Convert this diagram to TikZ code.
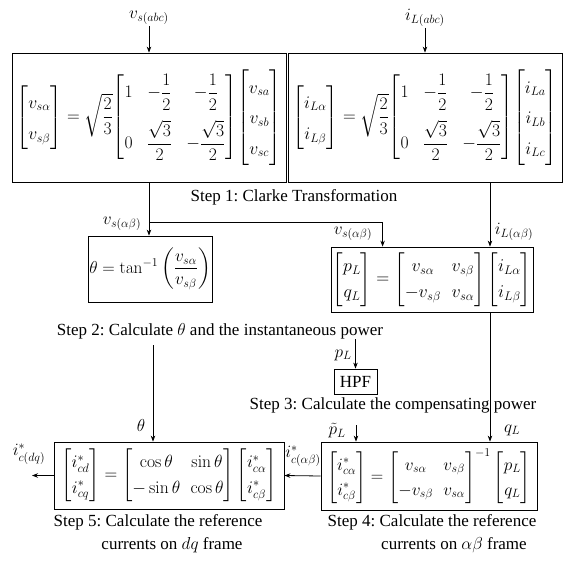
\documentclass[tikz,border=0pt]{standalone}
\usepackage{amsmath}
\usepackage{graphicx}
\usepackage[no-math]{fontspec}
\setmainfont{Liberation Serif}
\usetikzlibrary{arrows.meta}
\newcommand{\clarkeeq}[5]{%
  {\renewcommand{\arraystretch}{1.55}\begin{bmatrix} #1\\ #2\end{bmatrix}}%
  =\sqrt{\dfrac{2}{3}}%
  {\setlength{\arraycolsep}{7pt}\renewcommand{\arraystretch}{1}%
   \begin{bmatrix}1 & -\dfrac{1}{2} & -\dfrac{1}{2}\\[16pt] 0 & \dfrac{\sqrt{3}}{2} & -\dfrac{\sqrt{3}}{2}\end{bmatrix}}%
  {\renewcommand{\arraystretch}{1.5}\begin{bmatrix}#3\\ #4\\ #5\end{bmatrix}}}
\newcommand{\sceq}[2]{\scalebox{#1}{$#2$}}
\begin{document}
\frenchspacing
\begin{tikzpicture}[x=1pt,y=-1pt,
  font=\fontsize{17}{20}\selectfont,
  box/.style={draw,line width=0.8pt,inner sep=0pt},
  lbl/.style={inner sep=1pt},
  arr/.style={line width=0.8pt,-{Stealth[length=6pt,width=4.5pt]}}]
\useasboundingbox (0,0) rectangle (565,560);
\renewcommand{\arraystretch}{1.25}
% Step 1
\node[box,minimum width=274pt,minimum height=129pt] (clarkeL) at (149,117.5)
  {\sceq{1.02}{\clarkeeq{v_{s\alpha}}{v_{s\beta}}{v_{sa}}{v_{sb}}{v_{sc}}}};
\node[box,minimum width=274pt,minimum height=129pt] (clarkeR) at (425,117.5)
  {\sceq{1.02}{\clarkeeq{i_{L\alpha}}{i_{L\beta}}{i_{La}}{i_{Lb}}{i_{Lc}}}};
\node[lbl] (vsabc) at (149,18) {$v_{s(abc)}$};
\node[lbl] (iLabc) at (425,18) {$i_{L(abc)}$};
\node (s1) at (294,197) {Step 1: Clarke Transformation};
% Step 2
\node[box,minimum width=124pt,minimum height=66pt] (theta) at (150,269)
  {$\theta=\tan^{-1}\left(\dfrac{v_{s\alpha}}{v_{s\beta}}\right)$};
\node[box,minimum width=202pt,minimum height=65pt] (pq) at (432,279.5)
  {\sceq{1.04}{\begin{bmatrix} p_{L}\\ q_{L}\end{bmatrix}=\begin{bmatrix} v_{s\alpha} & v_{s\beta}\\ -v_{s\beta} & v_{s\alpha}\end{bmatrix}\begin{bmatrix} i_{L\alpha}\\ i_{L\beta}\end{bmatrix}}};
\node[lbl] (vsab1) at (122,224) {$v_{s(\alpha\beta)}$};
\node[lbl] (vsab2) at (353,234) {$v_{s(\alpha\beta)}$};
\node[lbl] (iLab) at (514,232) {$i_{L(\alpha\beta)}$};
\node (s2) at (220,331) {Step 2: Calculate $\theta$ and the instantaneous power};
% Step 3
\node[box,minimum width=43pt,minimum height=25pt,inner sep=1pt] (hpf) at (355.5,381.5) {HPF};
\node[lbl] (pL) at (343,355) {$p_{L}$};
\node (s3) at (393,405) {Step 3: Calculate the compensating power};
% Step 4
\node[box,minimum width=216pt,minimum height=68pt] (s4) at (429,476)
  {$\begin{bmatrix} i^{*}_{c\alpha}\\ i^{*}_{c\beta}\end{bmatrix}=\begin{bmatrix} v_{s\alpha} & v_{s\beta}\\ -v_{s\beta} & v_{s\alpha}\end{bmatrix}^{-1}\begin{bmatrix} p_{L}\\ q_{L}\end{bmatrix}$};
\node[lbl] (ptl) at (337,431) {$\tilde{p}_{L}$};
\node[lbl] (qL) at (512,430) {$q_{L}$};
\node (s4a) at (432,522) {Step 4: Calculate the reference};
\node (s4b) at (454,545) {currents on $\alpha\beta$ frame};
% Step 5
\node[box,minimum width=230pt,minimum height=67pt] (s5) at (169,475.5)
  {\sceq{1.02}{\begin{bmatrix} i^{*}_{cd}\\ i^{*}_{cq}\end{bmatrix}=\begin{bmatrix} \cos\theta & \sin\theta\\ -\sin\theta & \cos\theta\end{bmatrix}\begin{bmatrix} i^{*}_{c\alpha}\\ i^{*}_{c\beta}\end{bmatrix}}};
\node[lbl] (thl) at (141,425) {$\theta$};
\node[lbl] (icab) at (303,456) {$i^{*}_{c(\alpha\beta)}$};
\node[lbl] (icdq) at (29,454) {$i^{*}_{c(dq)}$};
\node (s5a) at (158,522) {Step 5: Calculate the reference};
\node (s5b) at (172,545) {currents on $dq$ frame};
% coordinates
\coordinate (br) at (149,222);
\coordinate (iLx) at (490,0);
\coordinate (thtop) at (153,345);
\coordinate (pLtop) at (355.5,339);
\coordinate (ptop) at (356,425);
\coordinate (out) at (32,475.5);
% connectors
\draw[arr] (vsabc.south) -- (clarkeL.north);
\draw[arr] (iLabc.south) -- (clarkeR.north);
\draw[arr] (clarkeL.south) -- (clarkeL.south |- theta.north);
\draw[arr] (br) -| ([xshift=52pt]pq.north west);
\draw[arr] (clarkeR.south -| iLx) -- (pq.north -| iLx);
\draw[arr] (pq.south -| iLx) -- (s4.north -| iLx);
\draw[arr] (pLtop) -- (hpf.north);
\draw[arr] (thtop) -- (thtop |- s5.north);
\draw[arr] (ptop) -- (ptop |- s4.north);
\draw[arr] (s4.west) -- (s5.east);
\draw[arr] (s5.west) -- (out);
\end{tikzpicture}
\end{document}
